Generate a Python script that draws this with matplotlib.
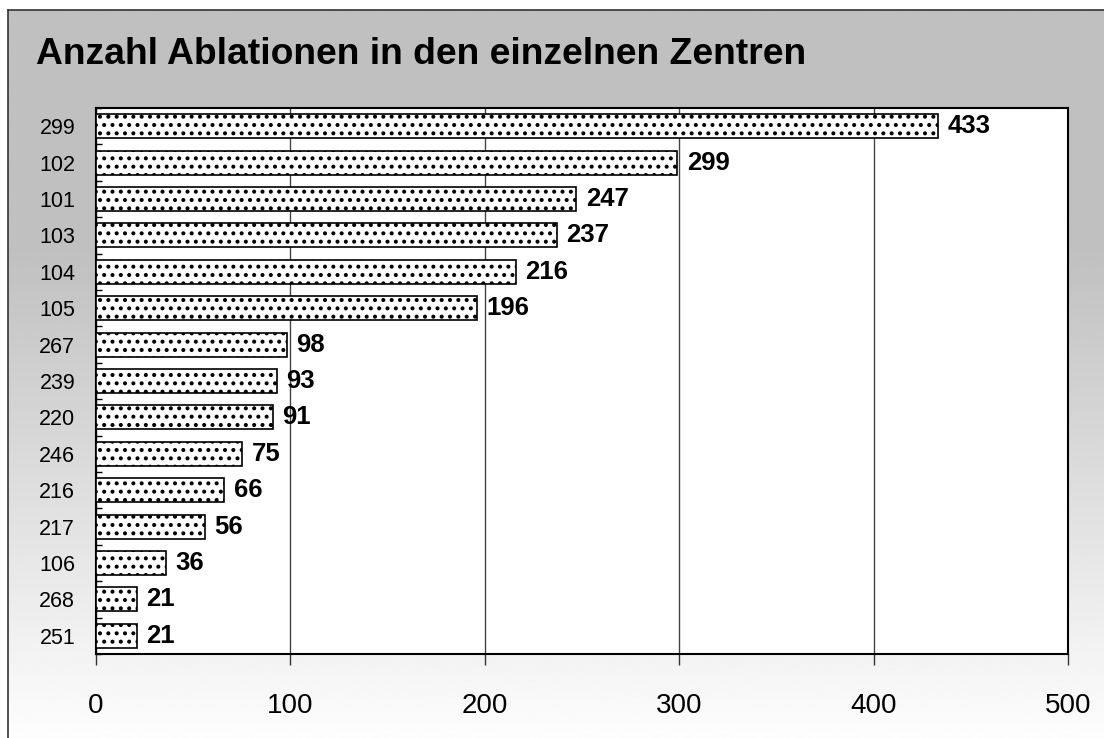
import numpy as np
import matplotlib.pyplot as plt

plt.rcParams['font.family'] = ['Liberation Sans', 'DejaVu Sans']
plt.rcParams['hatch.linewidth'] = 1.7

# Zentren (von oben nach unten) und Anzahl Ablationen
zentren = ["299", "102", "101", "103", "104", "105", "267", "239",
           "220", "246", "216", "217", "106", "268", "251"]
ablationen = [433, 299, 247, 237, 216, 196, 98, 93, 91, 75, 66, 56, 36, 21, 21]
x_ticks = [0, 100, 200, 300, 400, 500]

W, H = 1104, 738
fig = plt.figure(figsize=(W / 100, H / 100), dpi=100, facecolor='white')

# Hintergrund: grau oben, nach unten zu weiss verlaufend
bg = fig.add_axes([8 / W, 0, 1 - 8 / W, 1 - 10 / H])
rows = np.linspace(0, 1, 400)
vals = np.where(rows < 0.33, 192, 192 + (rows - 0.33) / 0.67 * 61)
grad = np.repeat(vals[:, None], 2, axis=1) / 255.0
bg.imshow(grad, cmap='gray', vmin=0, vmax=1, aspect='auto',
          extent=[0, 1, 1, 0], interpolation='bilinear')
bg.set_xlim(0, 1)
bg.set_ylim(1, 0)
bg.set_xticks([])
bg.set_yticks([])
for s in ['right', 'bottom']:
    bg.spines[s].set_visible(False)
for s in ['left', 'top']:
    bg.spines[s].set_color('#333333')
    bg.spines[s].set_linewidth(1.2)

fig.text(36 / W, 1 - 55 / H, "Anzahl Ablationen in den einzelnen Zentren",
         fontsize=26.8, fontweight='bold', va='center', ha='left')

ax = fig.add_axes([96 / W, 1 - 654 / H, (1068 - 96) / W, (654 - 108) / H])
ax.set_facecolor('white')
pos = np.arange(len(zentren))
ax.barh(pos, ablationen, height=0.66, color='white', edgecolor='black',
        hatch='..', linewidth=1.2, zorder=3)
for p, v in zip(pos, ablationen):
    ax.text(v + 5, p, str(v), va='center', ha='left', fontsize=18.5,
            fontweight='bold', zorder=4)

ax.set_xlim(0, 500)
ax.set_ylim(len(zentren) - 0.5, -0.5)
ax.set_xticks(x_ticks)
ax.set_xticklabels([str(t) for t in x_ticks], fontsize=20)
ax.set_yticks(pos)
ax.set_yticklabels(zentren, fontsize=15.5)
ax.set_yticks(np.arange(len(zentren) + 1) - 0.5, minor=True)
ax.tick_params(axis='x', length=8, width=1, pad=20, color='#333333')
ax.tick_params(axis='y', which='major', length=0, pad=15)
ax.tick_params(axis='y', which='minor', length=4, width=1, direction='in')
ax.grid(axis='x', color='#444444', linewidth=1, zorder=0)
for s in ax.spines.values():
    s.set_linewidth(1.5)
    s.set_color('black')

fig.savefig('out.png', dpi=100)
